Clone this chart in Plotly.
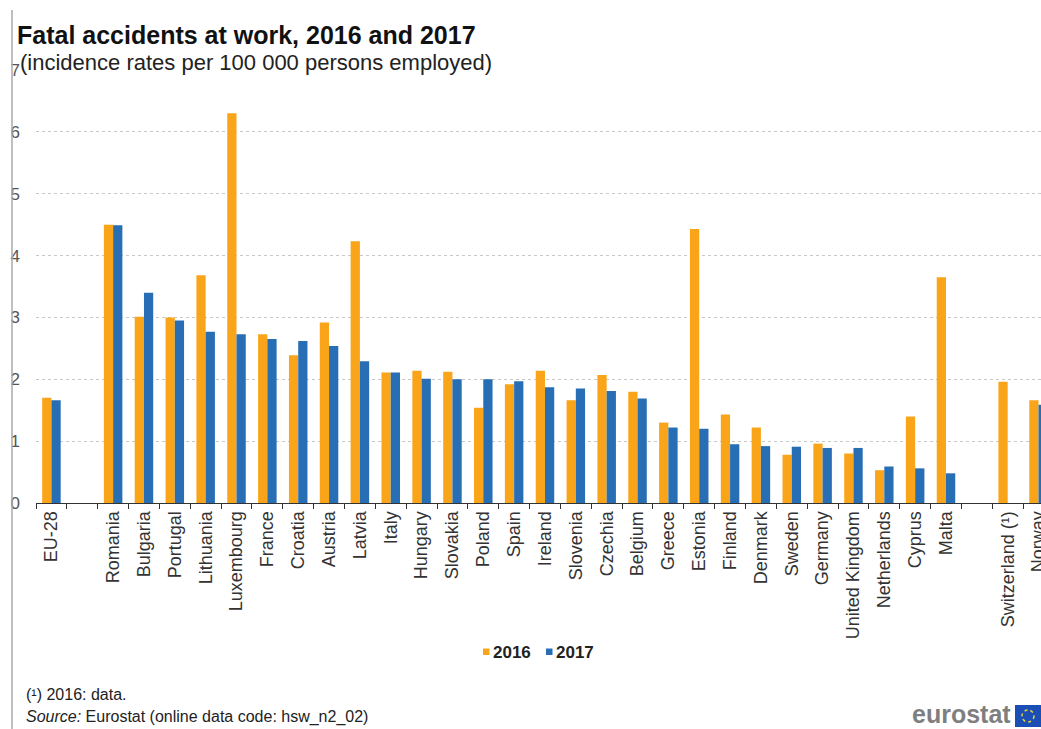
import plotly.graph_objects as go

# ---- data ----
categories = ["EU-28", "gap_a", "Romania", "Bulgaria", "Portugal", "Lithuania", "Luxembourg",
              "France", "Croatia", "Austria", "Latvia", "Italy", "Hungary", "Slovakia", "Poland",
              "Spain", "Ireland", "Slovenia", "Czechia", "Belgium", "Greece", "Estonia", "Finland",
              "Denmark", "Sweden", "Germany", "United Kingdom", "Netherlands", "Cyprus", "Malta",
              "gap_b", "Switzerland (¹)", "Norway"]
tick_labels = [("" if c.startswith("gap_") else c) for c in categories]

values_2016 = [1.70, None, 4.50, 3.01, 3.00, 3.68, 6.30, 2.73, 2.39, 2.92, 4.23, 2.11, 2.14, 2.12,
               1.54, 1.92, 2.14, 1.66, 2.07, 1.80, 1.30, 4.43, 1.43, 1.22, 0.78, 0.96, 0.80, 0.53,
               1.40, 3.65, None, 1.96, 1.66]
values_2017 = [1.66, None, 4.49, 3.40, 2.95, 2.77, 2.73, 2.65, 2.62, 2.54, 2.29, 2.11, 2.01, 2.00,
               2.00, 1.97, 1.87, 1.85, 1.81, 1.69, 1.22, 1.20, 0.95, 0.92, 0.91, 0.89, 0.89, 0.59,
               0.56, 0.48, None, None, 1.59]
series_names = ["2016", "2017"]
y_ticks = [0, 1, 2, 3, 4, 5, 6, 7]

ORANGE = "#FAA519"
BLUE = "#286EB4"
FONT = "Liberation Sans, Arial, sans-serif"

W, H = 1041, 729
ML, MR, MT, MB = 36, 0, 70, 226
PW, PH = W - ML - MR, H - MT - MB


def px_x(px):
    return (px - ML) / PW


def px_y(py):
    return (H - MB - py) / PH


fig = go.Figure()
fig.add_trace(go.Bar(x=categories, y=values_2016, name=series_names[0],
                     marker=dict(color=ORANGE, line=dict(width=0))))
fig.add_trace(go.Bar(x=categories, y=values_2017, name=series_names[1],
                     marker=dict(color=BLUE, line=dict(width=0))))

fig.update_layout(
    width=W, height=H,
    margin=dict(l=ML, r=MR, t=MT, b=MB, autoexpand=False),
    paper_bgcolor="white", plot_bgcolor="white",
    barmode="group", bargap=0.4, bargroupgap=0,
    font=dict(family=FONT, color="#333333"),
    showlegend=False,
    xaxis=dict(type="category", categoryorder="array", categoryarray=categories,
               tickvals=categories, ticktext=tick_labels,
               range=[-0.5, 32.08], tickangle=-90, tickson="boundaries",
               ticks="outside", ticklen=5, tickcolor="#333333", tickwidth=1,
               showline=True, linecolor="#333333", linewidth=1.2,
               showgrid=False, tickfont=dict(size=18, color="#333333", family=FONT)),
    yaxis=dict(range=[0, 7], tickvals=y_ticks, ticks="", showline=False,
               showgrid=True, gridcolor="#C8C8C8", griddash="dot", gridwidth=1,
               zeroline=False, ticklabelstandoff=15,
               tickfont=dict(size=17, color="#555555", family=FONT)),
)

# left frame line
fig.add_shape(type="line", xref="paper", yref="paper", x0=px_x(12), x1=px_x(12),
              y0=px_y(10), y1=px_y(729), line=dict(color="#AAAAAA", width=1.5))

# title and subtitle
fig.add_annotation(text="<b>Fatal accidents at work, 2016 and 2017</b>", xref="paper", yref="paper",
                   x=px_x(15), y=px_y(35), xanchor="left", yanchor="middle", showarrow=False,
                   font=dict(size=25, color="#111111", family=FONT))
fig.add_annotation(text="(incidence rates per 100 000 persons employed)", xref="paper", yref="paper",
                   x=px_x(18), y=px_y(63), xanchor="left", yanchor="middle", showarrow=False,
                   font=dict(size=22, color="#222222", family=FONT))

# manual legend
legend_items = [(series_names[0], ORANGE, 483), (series_names[1], BLUE, 546)]
for name, col, lx in legend_items:
    fig.add_shape(type="rect", xref="paper", yref="paper", x0=px_x(lx), x1=px_x(lx + 6.5),
                  y0=px_y(655), y1=px_y(648.5), line=dict(width=0), fillcolor=col)
    fig.add_annotation(text="<b>" + name + "</b>", xref="paper", yref="paper",
                       x=px_x(lx + 8), y=px_y(652), xanchor="left", yanchor="middle", showarrow=False,
                       font=dict(size=17, color="#222222", family=FONT))

# footnotes
fig.add_annotation(text="(¹) 2016: data.", xref="paper", yref="paper",
                   x=px_x(24), y=px_y(694), xanchor="left", yanchor="middle", showarrow=False,
                   font=dict(size=16, color="#222222", family=FONT))
fig.add_annotation(text="<i>Source:</i> Eurostat (online data code: hsw_n2_02)", xref="paper", yref="paper",
                   x=px_x(24), y=px_y(717), xanchor="left", yanchor="middle", showarrow=False,
                   font=dict(size=16, color="#222222", family=FONT))

# eurostat logo
fig.add_annotation(text="<b>eurostat</b>", xref="paper", yref="paper",
                   x=px_x(1013), y=px_y(714), xanchor="right", yanchor="middle", showarrow=False,
                   font=dict(size=25, color="#7F7F7F", family=FONT))
fig.add_shape(type="rect", xref="paper", yref="paper", x0=px_x(1015), x1=px_x(1041),
              y0=px_y(727), y1=px_y(705), line=dict(width=0), fillcolor="#1B4FB5")
fig.add_shape(type="circle", xref="paper", yref="paper", x0=px_x(1022), x1=px_x(1034),
              y0=px_y(722), y1=px_y(710), line=dict(color="#E8D23A", width=1.5, dash="dot"))

fig.write_html("out.html", config={"displayModeBar": False},
               post_script="document.body.style.margin='0';document.body.style.overflow='hidden';")
